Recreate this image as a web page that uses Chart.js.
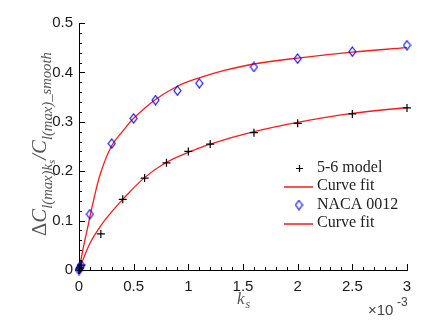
<!DOCTYPE html>
<html>
<head>
<meta charset="utf-8">
<script src="https://cdn.jsdelivr.net/npm/chart.js@4.4.0/dist/chart.umd.min.js"></script>
<style>
  html, body { margin: 0; padding: 0; background: #fff; }
  #wrap { width: 444px; height: 328px; position: relative; }
</style>
</head>
<body>
<div id="wrap"><canvas id="chart"></canvas></div>
<script>
// k_s values are in units of 1e-3 (axis shows x10^-3)
const modelKs = [0, 0.01, 0.02, 0.2, 0.4, 0.6, 0.8, 1.0, 1.2, 1.6, 2.0, 2.5, 3.0];
const modelVals = [0, 0.004, 0.010, 0.073, 0.143, 0.186, 0.217, 0.240, 0.255, 0.278, 0.297, 0.316, 0.328];

const modelFitKs = [0, 0.1, 0.2, 0.3, 0.4, 0.6, 0.8, 1.0, 1.2, 1.6, 2.0, 2.5, 3.0];
const modelFitVals = [0, 0.054, 0.090, 0.118, 0.143, 0.187, 0.218, 0.238, 0.255, 0.280, 0.299, 0.317, 0.329];

const nacaKs = [0, 0.005, 0.01, 0.02, 0.1, 0.3, 0.5, 0.7, 0.9, 1.1, 1.6, 2.0, 2.5, 3.0];
const nacaVals = [0, 0.003, 0.006, 0.010, 0.113, 0.256, 0.307, 0.344, 0.363, 0.378, 0.411, 0.428, 0.442, 0.455];

const nacaFitKs = [0, 0.04, 0.085, 0.13, 0.2, 0.3, 0.4, 0.5, 0.7, 0.9, 1.1, 1.33, 1.6, 2.0, 2.5, 3.0];
const nacaFitVals = [0, 0.046, 0.092, 0.138, 0.198, 0.252, 0.281, 0.307, 0.345, 0.372, 0.389, 0.404, 0.417, 0.429, 0.441, 0.450];

const xTicks = [0, 0.5, 1, 1.5, 2, 2.5, 3];
const yTicks = [0, 0.1, 0.2, 0.3, 0.4, 0.5];
const legendLabels = ['5-6 model', 'Curve fit', 'NACA 0012', 'Curve fit'];

const toPoints = (xs, ys) => xs.map((x, i) => ({ x, y: ys[i] }));

// tall thin diamond marker like the original
function diamondImage(w, h, color) {
  const c = document.createElement('canvas');
  c.width = w + 2; c.height = h + 2;
  const g = c.getContext('2d');
  g.strokeStyle = color;
  g.lineWidth = 1.1;
  g.beginPath();
  g.moveTo(c.width / 2, 1);
  g.lineTo(c.width - 1, c.height / 2);
  g.lineTo(c.width / 2, c.height - 1);
  g.lineTo(1, c.height / 2);
  g.closePath();
  g.stroke();
  return c;
}
const diamond = diamondImage(7, 9, '#0000ff');

const RED = '#ff1a1a';

// inward minor/major ticks, axis labels, legend
const decorations = {
  id: 'decorations',
  afterDraw(chart) {
    const { ctx, chartArea: a, scales: { x, y } } = chart;
    ctx.save();
    ctx.strokeStyle = '#000';
    ctx.lineWidth = 1;
    ctx.beginPath();
    for (let i = 0; i <= 25; i++) {
      const py = Math.round(y.getPixelForValue(i * 0.02)) + 0.5;
      const len = i % 5 === 0 ? 6 : 3;
      ctx.moveTo(a.left, py); ctx.lineTo(a.left + len, py);
    }
    for (let i = 0; i <= 30; i++) {
      const px = Math.round(x.getPixelForValue(i * 0.1)) + 0.5;
      const len = i % 5 === 0 ? 6 : 3;
      ctx.moveTo(px, a.bottom); ctx.lineTo(px, a.bottom - len);
    }
    ctx.stroke();

    // x title k_s
    ctx.fillStyle = '#555';
    ctx.textBaseline = 'alphabetic';
    ctx.font = 'italic 17px "Liberation Serif"';
    ctx.fillText('k', 237, 304);
    ctx.font = 'italic 12px "Liberation Serif"';
    ctx.fillText('s', 245.5, 308);

    // x10^-3
    ctx.fillStyle = '#444';
    ctx.font = '15px "Liberation Sans"';
    ctx.fillText('\u00d710', 368, 315);
    ctx.font = '12px "Liberation Sans"';
    ctx.fillText('-3', 397, 306);

    // y title with subscripts, rotated, fitted to the original length
    const parts = [
      { t: '\u0394', s: 17, it: false, dy: 0 },
      { t: 'C', s: 17, it: true, dy: 0 },
      { t: 'l', s: 12, it: true, dy: 5 },
      { t: '(max)', s: 12, it: true, dy: 5 },
      { t: 'k', s: 12, it: true, dy: 5 },
      { t: 's', s: 9, it: true, dy: 7 },
      { t: '/', s: 17, it: true, dy: 0 },
      { t: 'C', s: 17, it: true, dy: 0 },
      { t: 'l', s: 12, it: true, dy: 5 },
      { t: '(max)', s: 12, it: true, dy: 5 },
      { t: '_smooth', s: 12, it: true, dy: 4 }
    ];
    const fontOf = (p, k) => (p.it ? 'italic ' : '') + (p.s * k).toFixed(2) + 'px "Liberation Serif"';
    let total = 0;
    parts.forEach(p => { ctx.font = fontOf(p, 1); total += ctx.measureText(p.t).width; });
    const k = 184 / total;
    ctx.translate(46, 144);
    ctx.rotate(-Math.PI / 2);
    ctx.fillStyle = '#555';
    let cx = -92;
    parts.forEach(p => {
      ctx.font = fontOf(p, k);
      ctx.fillText(p.t, cx, p.dy * k);
      cx += ctx.measureText(p.t).width;
    });
    ctx.setTransform(1, 0, 0, 1, 0, 0);

    // legend
    const rows = [168, 186, 205, 223];
    ctx.font = '16px "Liberation Serif"';
    ctx.fillStyle = '#222';
    ctx.textBaseline = 'middle';
    rows.forEach((ry, i) => ctx.fillText(legendLabels[i], 317, ry));
    // + marker
    ctx.strokeStyle = '#000';
    ctx.lineWidth = 1.2;
    ctx.beginPath();
    ctx.moveTo(296, rows[0] + 0.5); ctx.lineTo(303, rows[0] + 0.5);
    ctx.moveTo(299.5, rows[0] - 3); ctx.lineTo(299.5, rows[0] + 4);
    ctx.stroke();
    // diamond
    ctx.drawImage(diamond, 299 - diamond.width / 2, rows[2] - diamond.height / 2);
    // red lines
    ctx.strokeStyle = RED;
    ctx.lineWidth = 1.3;
    ctx.beginPath();
    ctx.moveTo(284, rows[1] + 1); ctx.lineTo(313, rows[1] + 1);
    ctx.moveTo(284, rows[3] + 1); ctx.lineTo(313, rows[3] + 1);
    ctx.stroke();
    ctx.restore();
  }
};

new Chart(document.getElementById('chart'), {
  type: 'scatter',
  data: {
    datasets: [
      {
        label: legendLabels[0],
        data: toPoints(modelKs, modelVals),
        pointStyle: 'cross',
        pointRadius: 4,
        borderColor: '#000',
        borderWidth: 1.2,
        showLine: false,
        clip: false,
        order: 0
      },
      {
        label: legendLabels[1],
        data: toPoints(modelFitKs, modelFitVals),
        showLine: true,
        borderColor: RED,
        borderWidth: 1.3,
        pointRadius: 0,
        tension: 0.4,
        order: 1
      },
      {
        label: legendLabels[2],
        data: toPoints(nacaKs, nacaVals),
        pointStyle: diamond,
        showLine: false,
        clip: false,
        order: 0
      },
      {
        label: legendLabels[3],
        data: toPoints(nacaFitKs, nacaFitVals),
        showLine: true,
        borderColor: RED,
        borderWidth: 1.3,
        pointRadius: 0,
        tension: 0.4,
        order: 1
      }
    ]
  },
  options: {
    responsive: true,
    maintainAspectRatio: false,
    animation: false,
    layout: { padding: { top: 23, right: 37, left: 0, bottom: 0 } },
    plugins: { legend: { display: false }, tooltip: { enabled: false } },
    scales: {
      x: {
        type: 'linear',
        min: 0, max: 3,
        afterFit(s) { s.height = 58; },
        afterBuildTicks(s) { s.ticks = xTicks.map(v => ({ value: v })); },
        grid: { display: false, drawTicks: false },
        border: { display: true, color: '#000', width: 1 },
        ticks: {
          padding: 8,
          color: '#1a1a1a',
          font: { family: '"Liberation Sans"', size: 15 },
          maxRotation: 0,
          callback: v => String(v)
        }
      },
      y: {
        type: 'linear',
        min: 0, max: 0.5,
        afterFit(s) { s.width = 79; },
        afterBuildTicks(s) { s.ticks = yTicks.map(v => ({ value: v })); },
        grid: { display: false, drawTicks: false },
        border: { display: true, color: '#000', width: 1 },
        ticks: {
          padding: 6,
          color: '#1a1a1a',
          font: { family: '"Liberation Sans"', size: 15 },
          callback: v => String(Math.round(v * 10) / 10)
        }
      }
    }
  },
  plugins: [decorations]
});
</script>
</body>
</html>
